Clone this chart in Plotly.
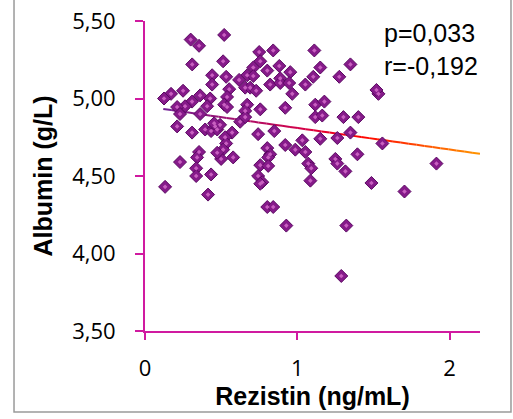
import plotly.graph_objects as go
import numpy as np

# ---- data ----
rezistin = [
    0.52, 0.30, 0.355, 0.31, 0.513, 0.75, 0.842, 1.112, 0.757, 0.711,
    0.803, 0.882, 0.954, 1.151, 1.349, 1.276, 0.441, 0.533, 0.671, 0.711,
    0.618, 0.441, 0.553, 0.658, 0.691, 0.73, 0.822, 0.888, 0.888, 0.947,
    1.053, 1.105, 0.967, 0.25, 0.171, 0.125, 0.362, 0.428, 0.539, 0.309,
    0.263, 0.211, 0.408, 0.52, 0.539, 0.671, 0.658, 0.757, 0.921, 1.118,
    1.178, 0.23, 0.362, 1.118, 1.164, 1.303, 1.401, 0.625, 0.658, 0.211,
    0.309, 0.395, 0.434, 0.461, 0.474, 0.493, 0.454, 0.572, 0.526, 0.743,
    0.849, 0.921, 0.987, 1.033, 1.151, 1.263, 1.349, 1.559, 1.053, 1.395,
    0.533, 0.513, 0.50, 0.355, 0.342, 0.474, 0.579, 0.803, 0.822, 0.809,
    0.757, 0.809, 0.743, 0.77, 0.757, 1.072, 1.092, 1.086, 1.25, 1.263,
    1.316, 1.487, 1.704, 1.914, 0.23, 0.336, 0.336, 0.434, 0.132, 0.414,
    0.803, 0.842, 0.928, 1.322, 1.289, 1.533, 1.52,
]
albumin = [
    5.41, 5.38, 5.34, 5.22, 5.24, 5.30, 5.31, 5.31, 5.24, 5.20,
    5.18, 5.21, 5.17, 5.20, 5.22, 5.14, 5.15, 5.14, 5.15, 5.145,
    5.12, 5.09, 5.06, 5.07, 5.07, 5.05, 5.09, 5.13, 5.10, 5.10,
    5.09, 5.14, 5.03, 5.05, 5.03, 5.00, 5.02, 5.00, 5.01, 4.98,
    4.95, 4.945, 4.95, 4.96, 4.945, 4.96, 4.92, 4.93, 4.94, 4.96,
    4.98, 4.90, 4.90, 4.88, 4.89, 4.88, 4.88, 4.85, 4.88, 4.82,
    4.78, 4.80, 4.79, 4.82, 4.80, 4.83, 4.84, 4.78, 4.75, 4.77,
    4.79, 4.70, 4.67, 4.73, 4.74, 4.745, 4.78, 4.71, 4.655, 4.64,
    4.71, 4.67, 4.61, 4.655, 4.62, 4.65, 4.62, 4.68, 4.64, 4.62,
    4.57, 4.565, 4.50, 4.46, 4.45, 4.58, 4.55, 4.47, 4.61, 4.58,
    4.53, 4.455, 4.40, 4.58, 4.59, 4.55, 4.50, 4.51, 4.43, 4.38,
    4.30, 4.30, 4.18, 4.18, 3.855, 5.03, 5.055,
]

trend_intercept = 4.949
trend_slope = -0.139
trend_x_start = 0.12
trend_x_end = 2.2

stats_text = ["p=0,033", "r=-0,192"]
x_tickvals = [0, 1, 2]
y_tickvals = [3.5, 4.0, 4.5, 5.0, 5.5]

AXIS_COL = "#D01AA0"

fig = go.Figure()

# ---- gradient trend line (purple -> red -> orange) ----
stops = [(0.0, (112, 32, 150)), (0.45, (215, 0, 70)), (0.62, (255, 0, 0)), (1.0, (255, 150, 0))]


def grad(t):
    for (t0, c0), (t1, c1) in zip(stops[:-1], stops[1:]):
        if t <= t1:
            f = (t - t0) / (t1 - t0)
            return "rgb(%d,%d,%d)" % tuple(round(a + (b - a) * f) for a, b in zip(c0, c1))
    return "rgb(%d,%d,%d)" % stops[-1][1]


nseg = 40
xs = np.linspace(trend_x_start, trend_x_end, nseg + 1)
for i in range(nseg):
    xa, xb = xs[i], xs[i + 1]
    t = (i + 0.5) / nseg
    fig.add_trace(go.Scatter(
        x=[xa, xb], y=[trend_intercept + trend_slope * xa, trend_intercept + trend_slope * xb],
        mode="lines", line=dict(color=grad(t), width=2), showlegend=False, hoverinfo="skip"))

# ---- points ----
fig.add_trace(go.Scatter(
    x=rezistin, y=albumin, mode="markers", showlegend=False,
    marker=dict(symbol="diamond", size=10, color="#861A8A",
                line=dict(color="#5A0862", width=1))))
fig.add_trace(go.Scatter(
    x=rezistin, y=albumin, mode="markers", showlegend=False, hoverinfo="skip",
    marker=dict(symbol="diamond", size=3.5, color="#C860C0", line=dict(width=0))))

fig.add_annotation(
    x=0.708, y=1.014, xref="paper", yref="paper", xanchor="left", yanchor="top",
    text="<br>".join(stats_text), showarrow=False, align="left",
    font=dict(family="Liberation Sans, Arial", size=25, color="black"))

# outer frame
fig.add_shape(type="rect", xref="paper", yref="paper",
              x0=-0.391, x1=1.0925, y0=-0.261, y1=1.1,
              line=dict(color="#9A9A9A", width=1.5))

fig.update_layout(
    width=513, height=419,
    margin=dict(l=145, r=33, t=21, b=88),
    plot_bgcolor="white", paper_bgcolor="white",
    separators=", ",
    xaxis=dict(
        range=[0, 2.2], tickvals=x_tickvals, tickformat="d",
        showline=True, linecolor=AXIS_COL, linewidth=2,
        ticks="outside", ticklen=7, tickwidth=2, tickcolor=AXIS_COL,
        showgrid=False, zeroline=False, ticklabelstandoff=10,
        tickfont=dict(family="Open Sans", size=22, color="black"),
        title=dict(text="<b>Rezistin (ng/mL)</b>", standoff=0,
                   font=dict(family="Liberation Sans, Arial", size=25, color="black")),
        automargin=False,
    ),
    yaxis=dict(
        range=[3.5, 5.5], tickvals=y_tickvals, tickformat=".2f",
        showline=True, linecolor=AXIS_COL, linewidth=2,
        ticks="outside", ticklen=8, tickwidth=2, tickcolor=AXIS_COL,
        showgrid=False, zeroline=False, ticklabelstandoff=15,
        tickfont=dict(family="Open Sans", size=22, color="black"),
        title=dict(text="<b>Albumin (g/L)</b>", standoff=12,
                   font=dict(family="Liberation Sans, Arial", size=25, color="black")),
        automargin=False,
    ),
)

fig.write_html("out.html")
